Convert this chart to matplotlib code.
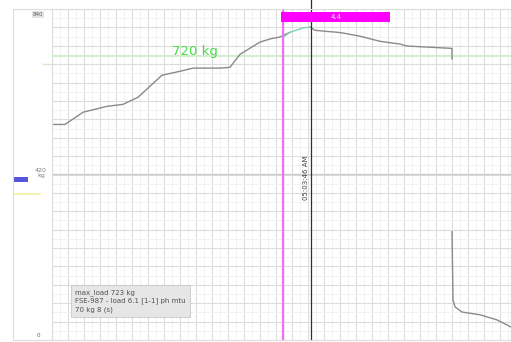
import matplotlib.pyplot as plt
from matplotlib.ticker import MultipleLocator

# Load trace (seconds since window start, kg)
t_rise = [1, 13, 31, 55, 71, 86, 98, 110, 128, 141, 168, 178, 188, 208, 218, 228, 238]
kg_rise = [547, 547, 578, 593, 598, 616, 644, 672, 682, 690, 690, 692, 725, 756, 764, 769, 781]
t_peak = [231, 238, 251, 258]
kg_peak = [768, 781, 792, 794]
t_fall = [258, 263, 271, 285, 291, 308, 328, 348, 355, 378, 400, 400]
kg_fall = [794, 786, 784, 781, 779, 771, 758, 751, 746, 743, 740, 713]
t_tail = [400, 401, 403, 410, 428, 445, 459]
kg_tail = [275, 102, 84, 71, 64, 51, 33]

target_kg = 720
cursor_t = 259
window_start = 231
window_end = 338
window_label = "4.4"
cursor_label = "05:03:46 AM"
legend_lines = ["max_load 723 kg", "FSE-987 - load 6.1 [1-1] ph mtu", "70 kg 8 (s)"]

W, H = 511, 342
fig = plt.figure(figsize=(W / 100, H / 100), dpi=100)
fig.patch.set_facecolor('white')

# main plot area
ax = fig.add_axes([52 / W, 2 / H, 459 / W, 331 / H])
ax.set_xlim(0, 459)
ax.set_ylim(0, 840)
ax.xaxis.set_major_locator(MultipleLocator(16))
ax.xaxis.set_minor_locator(MultipleLocator(8))
ax.yaxis.set_major_locator(MultipleLocator(840 / 18))
ax.yaxis.set_minor_locator(MultipleLocator(840 / 36))
ax.grid(True, which='major', color='#dcdcdc', linewidth=0.8)
ax.grid(True, which='minor', color='#f0f0f0', linewidth=0.6)
ax.axhline(420, color='#cccccc', linewidth=0.9)
ax.tick_params(which='both', length=0, labelbottom=False, labelleft=False)
for s in ax.spines.values():
    s.set_color('#dddddd')
    s.set_linewidth(0.8)
ax.set_axisbelow(True)

# target level
ax.axhline(target_kg, color='#cdeec6', linewidth=1.2)
ax.text(143, target_kg + 12, f"{target_kg} kg", color='#44dd44', fontsize=9.5,
        ha='center', va='center')

# load curve
ax.plot(t_rise, kg_rise, color='#8a8a8a', linewidth=1.0)
ax.plot(t_fall, kg_fall, color='#8a8a8a', linewidth=1.0)
ax.plot(t_tail, kg_tail, color='#8a8a8a', linewidth=1.0)
ax.plot(t_peak, kg_peak, color='#7fd0b0', linewidth=1.0)

# selection window
ax.axvline(window_start, color='#f070f0', linewidth=1.6)
ax.plot([cursor_t, cursor_t], [0, 870], color='#303030', linewidth=0.9, clip_on=False)
bar_bottom, bar_top = 807, 832
ax.fill_between([window_start - 2, window_end], bar_bottom, bar_top,
                color='#ff00ff', linewidth=0, clip_on=False, zorder=5)
ax.text((window_start + window_end) / 2, (bar_bottom + bar_top) / 2, window_label,
        color='white', fontsize=5, ha='center', va='center', zorder=6)
ax.text(cursor_t - 5, 411, cursor_label, rotation=90, color='#404040',
        fontsize=5, ha='center', va='center')

# info box
ax.text(23, 99, "\n".join(legend_lines), fontsize=5, color='#505050',
        ha='left', va='center', linespacing=1.35,
        bbox=dict(boxstyle='square,pad=0.6', facecolor='#e6e6e6',
                  edgecolor='#c8c8c8', linewidth=0.6))

# left scale panel
axl = fig.add_axes([13 / W, 2 / H, 39 / W, 331 / H])
axl.set_xlim(0, 39)
axl.set_ylim(0, 840)
axl.set_xticks([])
axl.set_yticks([])
for s in axl.spines.values():
    s.set_color('#dddddd')
    s.set_linewidth(0.8)
axl.text(25, 832, "840", fontsize=4, color='#606060', ha='center', va='top',
         bbox=dict(boxstyle='square,pad=0.2', facecolor='#e4e4e4', edgecolor='none'))
axl.text(28, 425, "420\nkg", fontsize=4.5, color='#808080', ha='center', va='center',
         linespacing=1.0)
axl.text(25, 4, "0", fontsize=4, color='#606060', ha='center', va='bottom')
axl.fill_between([0, 15], 400, 413, color='#5555dd', linewidth=0)
axl.plot([0, 27], [370, 370], color='#f0f0a0', linewidth=1.2)
axl.plot([30, 39], [target_kg - 20, target_kg - 20], color='#cdeec6', linewidth=1.0)

fig.savefig('out.png', dpi=100)
